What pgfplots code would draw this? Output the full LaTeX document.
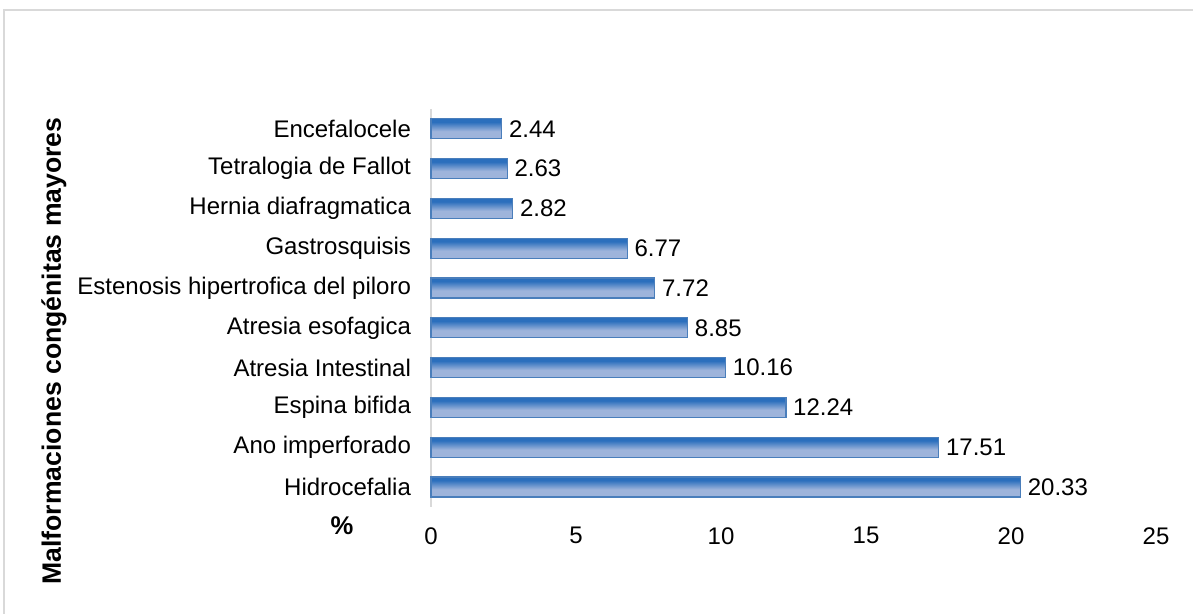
\documentclass[border=0pt]{standalone}
\usepackage{fontspec}
\setmainfont{Liberation Sans}
\usepackage{pgfplots}
\pgfplotsset{compat=1.18}

\definecolor{bardark}{HTML}{2B6FBD}
\definecolor{barlight}{HTML}{9EB4DB}
\definecolor{baredge}{HTML}{4A7EBB}
\definecolor{framegray}{HTML}{D9D9D9}

% dark blue along the top edge of each bar, fading softly to a light blue body
\pgfdeclareverticalshading{barshade}{100bp}{%
  color(0bp)=(barlight); color(25bp)=(barlight); color(44bp)=(barlight);
  color(67bp)=(bardark); color(100bp)=(bardark)}

\newcommand{\lblfont}{\fontsize{12}{14}\selectfont}
\pgfplotsset{gradbar/.style={shading=barshade, draw=baredge, line width=0.6pt}}

\begin{document}
\begin{tikzpicture}
\useasboundingbox (0,0) rectangle (596.5pt,307pt);
% chart area border (top and left edges)
\draw[framegray, line width=1pt] (2pt,0pt) -- (2pt,302pt) -- (596.5pt,302pt);

\begin{axis}[
  at={(215.5pt,53.5pt)}, anchor=south west,
  scale only axis, width=362.5pt, height=199pt,
  xbar, bar width=10pt, bar shift=0pt,
  xmin=0, xmax=25, ymin=-0.5, ymax=9.5,
  xtick={0,5,...,25},
  ytick={0,...,9},
  yticklabels={Hidrocefalia, Ano imperforado, Espina bifida, Atresia Intestinal,
    Atresia esofagica, Estenosis hipertrofica del piloro, Gastrosquisis,
    Hernia diafragmatica, Tetralogia de Fallot, Encefalocele},
  axis lines*=left, separate axis lines,
  x axis line style={draw=none},
  y axis line style={draw=framegray, line width=1pt},
  major tick length=0pt,
  tick style={draw=none},
  tick label style={font=\lblfont},
  xticklabel style={yshift=-6.6pt},
  yticklabel style={xshift=-6.5pt},
  /pgf/number format/assume math mode=true,
  nodes near coords={\pgfmathprintnumber[fixed,precision=2,fixed zerofill]{\pgfplotspointmeta}},
  every node near coord/.append style={font=\lblfont, anchor=west, text=black},
  clip=false,
]
% one plot per category so every bar carries its own gradient
\addplot[gradbar] coordinates {(20.33,0)};
\addplot[gradbar] coordinates {(17.51,1)};
\addplot[gradbar] coordinates {(12.24,2)};
\addplot[gradbar] coordinates {(10.16,3)};
\addplot[gradbar] coordinates {(8.85,4)};
\addplot[gradbar] coordinates {(7.72,5)};
\addplot[gradbar] coordinates {(6.77,6)};
\addplot[gradbar] coordinates {(2.82,7)};
\addplot[gradbar] coordinates {(2.63,8)};
\addplot[gradbar] coordinates {(2.44,9)};
\end{axis}

\node[font=\fontsize{12.8}{15}\selectfont\bfseries] at (171pt,44pt) {\%};
\node[font=\fontsize{13.3}{15}\selectfont\bfseries, rotate=90] at (27pt,131.5pt)
  {Malformaciones congénitas mayores};
\end{tikzpicture}
\end{document}
